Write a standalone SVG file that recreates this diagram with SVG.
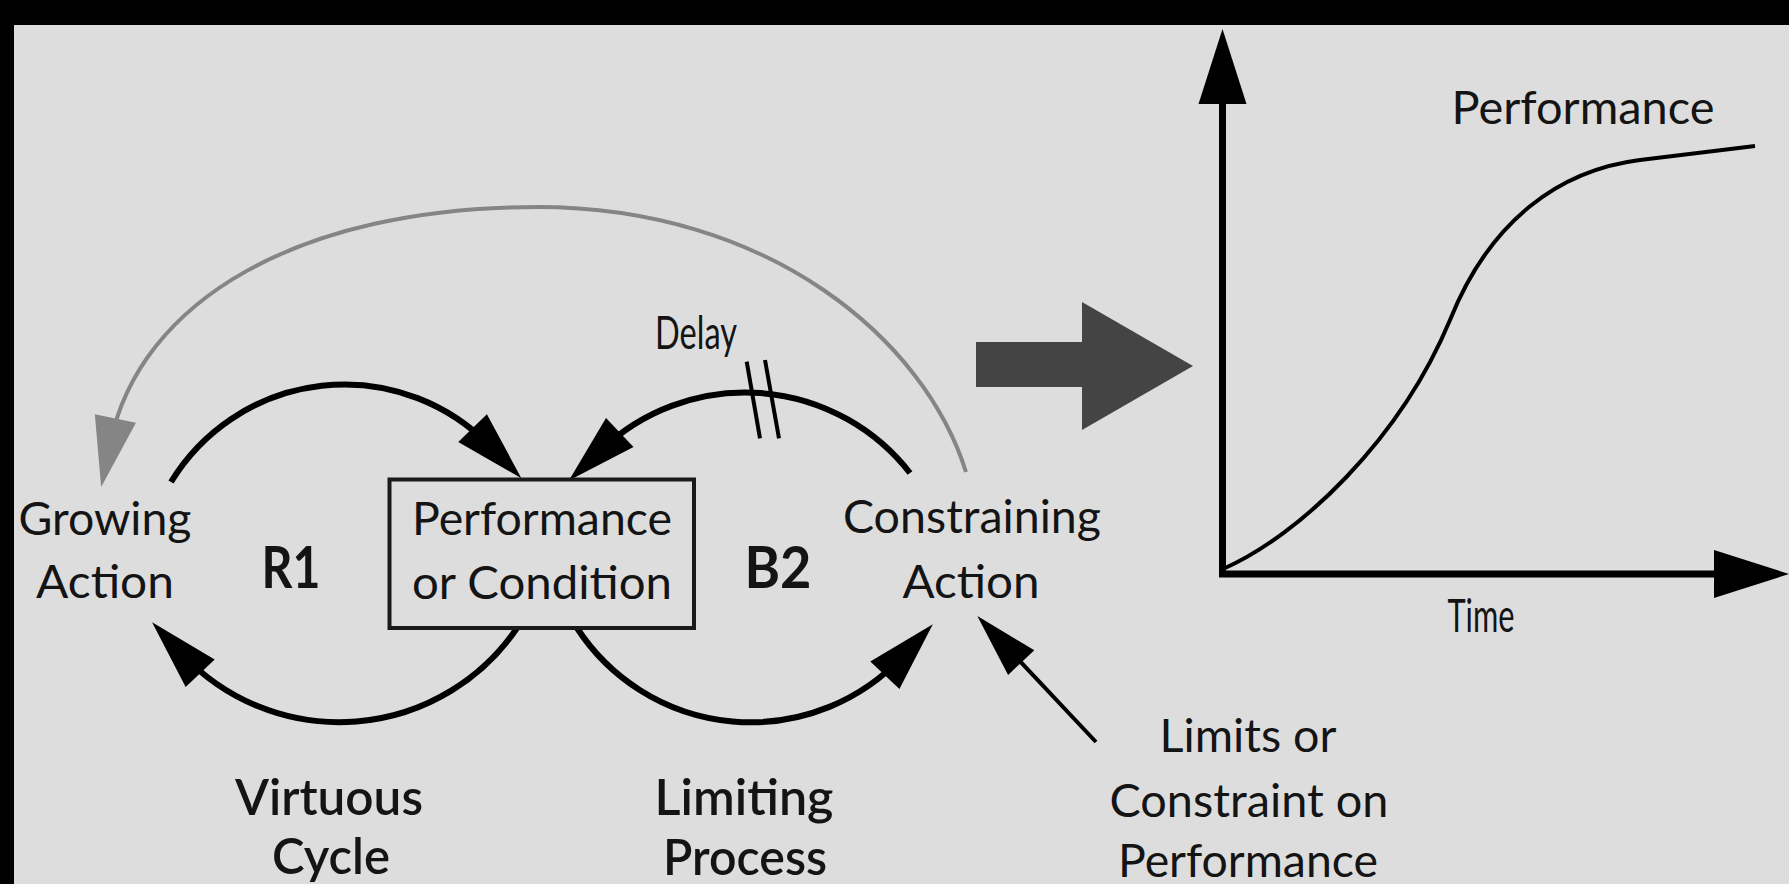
<svg xmlns="http://www.w3.org/2000/svg" width="1789" height="884" viewBox="0 0 1789 884">
  <style>
    .bg { fill: #dddddd; }
    .frame { fill: #000000; }
    .lbl { font-family: Lato, "Liberation Sans", Arial, sans-serif; font-size: 47px; fill: #141414; text-anchor: middle; }
    .lbl-b { font-family: Lato, "Liberation Sans", Arial, sans-serif; font-size: 50px; font-weight: 600; fill: #141414; text-anchor: middle; }
    .loop { font-family: Lato, "Liberation Sans", Arial, sans-serif; font-size: 58px; font-weight: 700; fill: #141414; text-anchor: middle; }
    .cond { font-family: Lato, "Liberation Sans", Arial, sans-serif; font-size: 46px; fill: #141414; }
    .link { fill: none; stroke: #000000; stroke-width: 6; }
    .link-thin { fill: none; stroke: #000000; stroke-width: 4; }
    .link-grey { fill: none; stroke: #858585; stroke-width: 4; }
    .box { fill: none; stroke: #1a1a1a; stroke-width: 4; }
    .axis { fill: none; stroke: #000000; stroke-width: 7; stroke-linejoin: miter; }
    .curve { fill: none; stroke: #000000; stroke-width: 4; }
  </style>
  <defs>
    <marker id="head" markerUnits="userSpaceOnUse" markerWidth="70" markerHeight="40" refX="25" refY="20" orient="auto" overflow="visible">
      <path d="M0,0 L70,20 L0,40 Z" fill="#000000"/>
    </marker>
    <marker id="head-grey" markerUnits="userSpaceOnUse" markerWidth="70" markerHeight="42" refX="25" refY="21" orient="auto" overflow="visible">
      <path d="M0,0 L70,21 L0,42 Z" fill="#858585"/>
    </marker>
    <marker id="head-thin" markerUnits="userSpaceOnUse" markerWidth="64" markerHeight="36" refX="20" refY="18" orient="auto" overflow="visible">
      <path d="M0,0 L64,18 L0,36 Z" fill="#000000"/>
    </marker>
    <marker id="axis-head" markerUnits="userSpaceOnUse" markerWidth="75" markerHeight="48" refX="15" refY="24" orient="auto-start-reverse" overflow="visible">
      <path d="M0,0 L75,24 L0,48 Z" fill="#000000"/>
    </marker>
  </defs>

  <!-- page -->
  <rect class="bg" x="0" y="0" width="1789" height="884"/>
  <rect class="frame" x="0" y="0" width="1789" height="25"/>
  <rect class="frame" x="0" y="0" width="14" height="884"/>

  <!-- causal links -->
  <g id="connectors">
    <!-- outer grey link: constraining action back to growing action -->
    <path class="link-grey" d="M966,472 C 925,340 770,207 537,207 C 300,207 140,300 110.3,443" marker-end="url(#head-grey)"/>
    <!-- R1 loop -->
    <path class="link" d="M171,482 A 203 203 0 0 1 490,446" marker-end="url(#head)"/>
    <path class="link" d="M517,628 A 215 215 0 0 1 183,655" marker-end="url(#head)"/>
    <!-- B2 loop -->
    <path class="link" d="M910,473 A 209 209 0 0 0 601.6,449.6" marker-end="url(#head)"/>
    <path class="link" d="M577,628 A 207.5 207.5 0 0 0 902,657" marker-end="url(#head)"/>
    <!-- delay mark -->
    <line class="link-thin" x1="746.7" y1="361.7" x2="760" y2="438.3"/>
    <line class="link-thin" x1="765" y1="360" x2="779" y2="438.3"/>
    <!-- external limit -->
    <path class="link-thin" d="M1096,742 L1007.5,648" marker-end="url(#head-thin)"/>
  </g>

  <g id="growing-action">
    <text class="lbl" x="105" y="535" textLength="173" lengthAdjust="spacingAndGlyphs">Growing</text>
    <text class="lbl" x="105" y="598" textLength="138" lengthAdjust="spacingAndGlyphs">Action</text>
  </g>

  <g id="performance-box">
    <rect class="box" x="389.5" y="479.5" width="304.5" height="148.5"/>
    <text class="lbl" x="542" y="535" textLength="260" lengthAdjust="spacingAndGlyphs">Performance</text>
    <text class="lbl" x="542" y="599" textLength="260" lengthAdjust="spacingAndGlyphs">or Condition</text>
  </g>

  <g id="constraining-action">
    <text class="lbl" x="972" y="533" textLength="258" lengthAdjust="spacingAndGlyphs">Constraining</text>
    <text class="lbl" x="971" y="598" textLength="137" lengthAdjust="spacingAndGlyphs">Action</text>
  </g>

  <g id="loop-r1">
    <text class="loop" x="291" y="588" textLength="59" lengthAdjust="spacingAndGlyphs">R1</text>
  </g>
  <g id="loop-b2">
    <text class="loop" x="778" y="588" textLength="67" lengthAdjust="spacingAndGlyphs">B2</text>
  </g>

  <g id="delay-label">
    <text class="cond" x="655" y="349" textLength="82" lengthAdjust="spacingAndGlyphs">Delay</text>
  </g>

  <g id="virtuous-cycle">
    <text class="lbl-b" x="329" y="815" textLength="188" lengthAdjust="spacingAndGlyphs">Virtuous</text>
    <text class="lbl-b" x="331" y="874" textLength="118" lengthAdjust="spacingAndGlyphs">Cycle</text>
  </g>

  <g id="limiting-process">
    <text class="lbl-b" x="744" y="815" textLength="179" lengthAdjust="spacingAndGlyphs">Limiting</text>
    <text class="lbl-b" x="745" y="875" textLength="164" lengthAdjust="spacingAndGlyphs">Process</text>
  </g>

  <g id="limits">
    <text class="lbl" x="1248" y="752" textLength="177" lengthAdjust="spacingAndGlyphs">Limits or</text>
    <text class="lbl" x="1249" y="817" textLength="279" lengthAdjust="spacingAndGlyphs">Constraint on</text>
    <text class="lbl" x="1248" y="877" textLength="260" lengthAdjust="spacingAndGlyphs">Performance</text>
  </g>

  <!-- transition arrow -->
  <g id="result-arrow">
    <polygon points="976,342 1082,342 1082,302 1193,366 1082,430 1082,387 976,387" fill="#444444"/>
  </g>

  <!-- performance over time -->
  <g id="graph">
    <path class="axis" d="M1222.5,89 L1222.5,574 L1729,574" marker-start="url(#axis-head)" marker-end="url(#axis-head)"/>
    <path class="curve" d="M1223,569 C 1300,535 1400,440 1450,320 C 1490,220 1560,170 1640,160 C 1690,154 1720,150 1755,146"/>
    <text class="lbl" x="1583" y="124" textLength="263" lengthAdjust="spacingAndGlyphs">Performance</text>
    <text class="cond" x="1481" y="632" text-anchor="middle" textLength="67" lengthAdjust="spacingAndGlyphs">Time</text>
  </g>
</svg>
